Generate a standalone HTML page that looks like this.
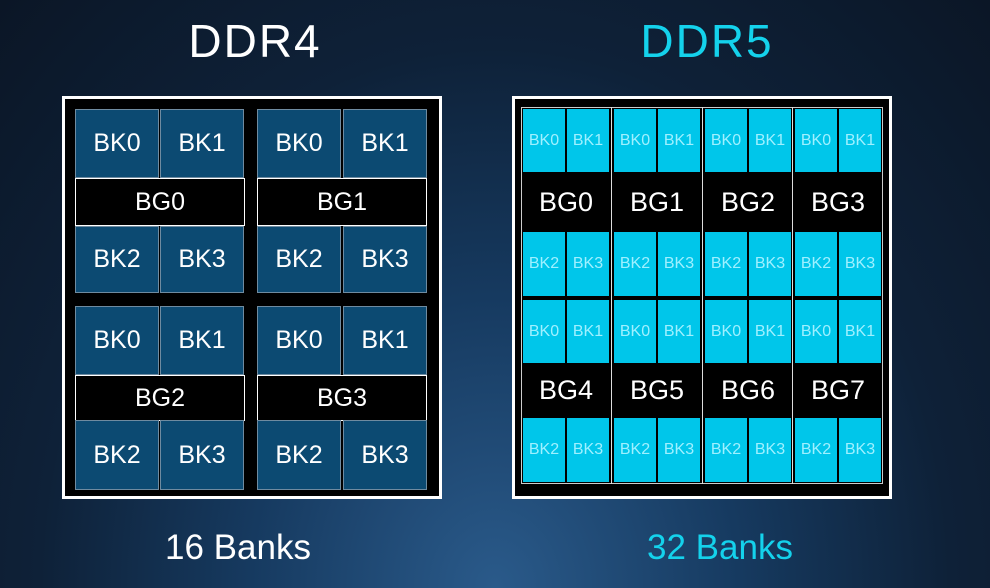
<!DOCTYPE html>
<html><head><meta charset="utf-8"><style>
body{margin:0;width:990px;height:588px;overflow:hidden;position:relative;font-family:"Liberation Sans",sans-serif;
background:radial-gradient(ellipse at 50% 100%,#2a5a8a 0%,#163a60 35%,#0e2138 65%,#0b1626 100%);}
div{position:absolute;box-sizing:border-box}
.t{color:#fff;text-align:center;white-space:nowrap}
.box{background:#000;border:3px solid #fff}
.k4{background:#0c4a72;border:1px solid #6f8ba0;color:#fff;font-size:25px;display:flex;align-items:center;justify-content:center;width:84px}
.g4{background:#000;border:1px solid #fff;color:#fff;font-size:25px;display:flex;align-items:center;justify-content:center;width:170px;left:0}
.k5{background:#00c6ea;color:#9ff0ff;font-size:16px;display:flex;align-items:center;justify-content:center;width:42px}
.g5{background:#000;color:#fff;font-size:27px;display:flex;align-items:center;justify-content:center;width:86px}
</style></head><body>
<div class="t" style="left:155px;top:14px;width:200px;font-size:46px;letter-spacing:2px">DDR4</div>
<div class="t" style="left:607px;top:14px;width:200px;font-size:46px;letter-spacing:2px;color:#14d2ec">DDR5</div>
<div class="t" style="left:138px;top:528px;width:200px;font-size:35px">16 Banks</div>
<div class="t" style="left:620px;top:528px;width:200px;font-size:35px;color:#14d2ec">32 Banks</div>

<div class="box" style="left:62px;top:96px;width:380px;height:403px"></div>
<!-- DDR4 -->
<div class="k4" style="left:75px;top:109px;height:69px">BK0</div><div class="k4" style="left:160px;top:109px;height:69px">BK1</div>
<div class="k4" style="left:257px;top:109px;height:69px">BK0</div><div class="k4" style="left:343px;top:109px;height:69px">BK1</div>
<div class="g4" style="left:75px;top:178px;height:48px">BG0</div><div class="g4" style="left:257px;top:178px;height:48px">BG1</div>
<div class="k4" style="left:75px;top:226px;height:67px">BK2</div><div class="k4" style="left:160px;top:226px;height:67px">BK3</div>
<div class="k4" style="left:257px;top:226px;height:67px">BK2</div><div class="k4" style="left:343px;top:226px;height:67px">BK3</div>
<div class="k4" style="left:75px;top:306px;height:69px">BK0</div><div class="k4" style="left:160px;top:306px;height:69px">BK1</div>
<div class="k4" style="left:257px;top:306px;height:69px">BK0</div><div class="k4" style="left:343px;top:306px;height:69px">BK1</div>
<div class="g4" style="left:75px;top:375px;height:46px">BG2</div><div class="g4" style="left:257px;top:375px;height:46px">BG3</div>
<div class="k4" style="left:75px;top:420px;height:70px">BK2</div><div class="k4" style="left:160px;top:420px;height:70px">BK3</div>
<div class="k4" style="left:257px;top:420px;height:70px">BK2</div><div class="k4" style="left:343px;top:420px;height:70px">BK3</div>

<div class="box" style="left:512px;top:96px;width:380px;height:403px"></div>
<div style="left:521px;top:107px;width:362px;height:377px;border:1px solid #ccc"></div>
<div style="left:611px;top:107px;width:1px;height:377px;background:#ddd"></div>
<div style="left:702px;top:107px;width:1px;height:377px;background:#ddd"></div>
<div style="left:792px;top:107px;width:1px;height:377px;background:#ddd"></div>
<!-- DDR5 row1 -->
<div class="k5" style="left:523px;top:109px;height:63px">BK0</div><div class="k5" style="left:567px;top:109px;height:63px">BK1</div>
<div class="k5" style="left:614px;top:109px;height:63px">BK0</div><div class="k5" style="left:658px;top:109px;height:63px">BK1</div>
<div class="k5" style="left:705px;top:109px;height:63px">BK0</div><div class="k5" style="left:749px;top:109px;height:63px">BK1</div>
<div class="k5" style="left:795px;top:109px;height:63px">BK0</div><div class="k5" style="left:839px;top:109px;height:63px">BK1</div>
<div class="g5" style="left:523px;top:172px;height:60px">BG0</div><div class="g5" style="left:614px;top:172px;height:60px">BG1</div>
<div class="g5" style="left:705px;top:172px;height:60px">BG2</div><div class="g5" style="left:795px;top:172px;height:60px">BG3</div>
<div class="k5" style="left:523px;top:232px;height:64px">BK2</div><div class="k5" style="left:567px;top:232px;height:64px">BK3</div>
<div class="k5" style="left:614px;top:232px;height:64px">BK2</div><div class="k5" style="left:658px;top:232px;height:64px">BK3</div>
<div class="k5" style="left:705px;top:232px;height:64px">BK2</div><div class="k5" style="left:749px;top:232px;height:64px">BK3</div>
<div class="k5" style="left:795px;top:232px;height:64px">BK2</div><div class="k5" style="left:839px;top:232px;height:64px">BK3</div>
<div class="k5" style="left:523px;top:300px;height:63px">BK0</div><div class="k5" style="left:567px;top:300px;height:63px">BK1</div>
<div class="k5" style="left:614px;top:300px;height:63px">BK0</div><div class="k5" style="left:658px;top:300px;height:63px">BK1</div>
<div class="k5" style="left:705px;top:300px;height:63px">BK0</div><div class="k5" style="left:749px;top:300px;height:63px">BK1</div>
<div class="k5" style="left:795px;top:300px;height:63px">BK0</div><div class="k5" style="left:839px;top:300px;height:63px">BK1</div>
<div class="g5" style="left:523px;top:363px;height:55px">BG4</div><div class="g5" style="left:614px;top:363px;height:55px">BG5</div>
<div class="g5" style="left:705px;top:363px;height:55px">BG6</div><div class="g5" style="left:795px;top:363px;height:55px">BG7</div>
<div class="k5" style="left:523px;top:418px;height:64px">BK2</div><div class="k5" style="left:567px;top:418px;height:64px">BK3</div>
<div class="k5" style="left:614px;top:418px;height:64px">BK2</div><div class="k5" style="left:658px;top:418px;height:64px">BK3</div>
<div class="k5" style="left:705px;top:418px;height:64px">BK2</div><div class="k5" style="left:749px;top:418px;height:64px">BK3</div>
<div class="k5" style="left:795px;top:418px;height:64px">BK2</div><div class="k5" style="left:839px;top:418px;height:64px">BK3</div>
</body></html>
